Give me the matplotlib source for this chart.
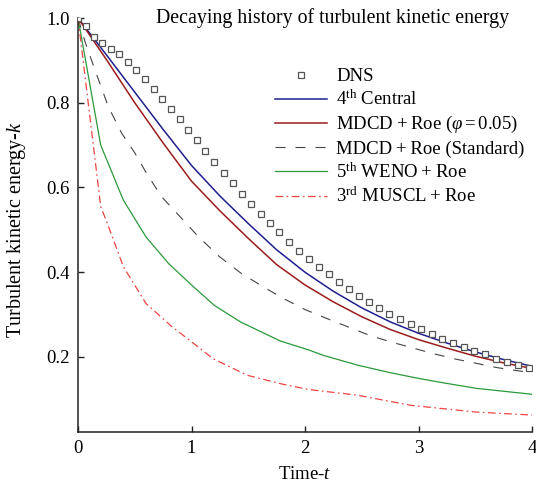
import matplotlib
matplotlib.use('Agg')
import matplotlib.pyplot as plt

plt.rcParams['font.family'] = ['Liberation Serif', 'DejaVu Serif']
plt.rcParams['mathtext.fontset'] = 'custom'
plt.rcParams['mathtext.rm'] = 'Liberation Serif'
plt.rcParams['mathtext.it'] = 'Liberation Serif:italic'
plt.rcParams['mathtext.fallback'] = 'cm'
plt.rcParams['lines.scale_dashes'] = False

# DNS reference points
t_dns = [0, 0.07, 0.144, 0.214, 0.288, 0.364, 0.438, 0.514, 0.59, 0.667, 0.743, 0.819,
         0.896, 0.972, 1.046, 1.12, 1.20, 1.284, 1.363, 1.445, 1.527, 1.61, 1.692, 1.774,
         1.859, 1.95, 2.038, 2.126, 2.211, 2.302, 2.39, 2.478, 2.567, 2.655, 2.743, 2.837,
         2.931, 3.02, 3.116, 3.21, 3.30, 3.40, 3.49, 3.59, 3.685, 3.78, 3.88, 3.976]
k_dns = [1.0, 0.982, 0.956, 0.940, 0.928, 0.914, 0.895, 0.877, 0.855, 0.832, 0.808, 0.785,
         0.761, 0.736, 0.711, 0.686, 0.660, 0.635, 0.610, 0.584, 0.562, 0.538, 0.516, 0.494,
         0.472, 0.451, 0.432, 0.413, 0.395, 0.377, 0.361, 0.345, 0.330, 0.315, 0.302, 0.289,
         0.277, 0.266, 0.255, 0.243, 0.233, 0.223, 0.214, 0.206, 0.196, 0.188, 0.181, 0.174]

# common time samples for the smooth solver curves
t_s = [0, 0.25, 0.5, 0.75, 1.0, 1.25, 1.5, 1.75, 2.0, 2.25, 2.5, 2.75, 3.0, 3.25, 3.5, 3.75, 4.0]

# 4th central
k_c4 = [1.0, 0.913, 0.825, 0.737, 0.652, 0.580, 0.515, 0.453, 0.400, 0.355, 0.316, 0.283,
        0.256, 0.233, 0.212, 0.194, 0.178]

# MDCD+Roe (phi=0.05)
k_mdcd = [1.0, 0.902, 0.800, 0.705, 0.615, 0.545, 0.480, 0.418, 0.370, 0.330, 0.295, 0.265,
          0.241, 0.221, 0.202, 0.186, 0.173]

# MDCD+Roe (standard)
t_std = [0, 0.062, 0.15, 0.267, 0.385, 0.502, 0.605, 0.737, 0.9, 1.06, 1.25, 1.44, 1.63, 1.81,
         2.0, 2.19, 2.38, 2.57, 2.75, 2.94, 3.13, 3.31, 3.51, 3.69, 3.89, 4.0]
k_std = [1.0, 0.944, 0.877, 0.791, 0.728, 0.681, 0.633, 0.578, 0.531, 0.484, 0.436, 0.397,
         0.366, 0.338, 0.312, 0.291, 0.271, 0.251, 0.236, 0.222, 0.208, 0.196, 0.185, 0.175,
         0.167, 0.163]

# 5th WENO+Roe
t_weno = [0, 0.2, 0.4, 0.6, 0.8, 1.0, 1.2, 1.43, 1.78, 2.04, 2.16, 2.46, 2.75, 3.01, 3.22, 3.51, 4.0]
k_weno = [1.0, 0.70, 0.57, 0.483, 0.42, 0.37, 0.322, 0.283, 0.238, 0.216, 0.204, 0.181, 0.163,
          0.149, 0.139, 0.126, 0.112]

# 3rd MUSCL+Roe
t_muscl = [0, 0.2, 0.27, 0.4, 0.6, 0.83, 1.0, 1.19, 1.49, 1.8, 2.04, 2.46, 2.93, 3.22, 3.51, 4.0]
k_muscl = [1.0, 0.555, 0.507, 0.413, 0.326, 0.271, 0.236, 0.196, 0.157, 0.136, 0.123, 0.110,
           0.086, 0.078, 0.070, 0.063]

FS = 13.5
fig = plt.figure(figsize=(5.36, 4.86), dpi=100)
ax = fig.add_axes([78/536, 54/486, 454/536, 414/486])

ax.plot(t_dns, k_dns, ls='none', marker='s', ms=4.3, mfc='white', mec='#555555', mew=0.9,
        label='DNS', zorder=5)
ax.plot(t_s, k_c4, color='#1f1f8f', lw=1.1, label='4$^{\\rm th}$ Central')
ax.plot(t_s, k_mdcd, color='#9b1c1c', lw=1.1,
        label='MDCD\u2009+\u2009Roe ($\\varphi = 0.05$)')
ax.plot(t_std, k_std, color='#444444', lw=0.8, ls=(0, (7.2, 7.2)),
        label='MDCD\u2009+\u2009Roe (Standard)')
ax.plot(t_weno, k_weno, color='#2a9a3a', lw=0.9, label='5$^{\\rm th}$ WENO\u2009+\u2009Roe')
ax.plot(t_muscl, k_muscl, color='#ee4444', lw=0.9, ls=(0, (5.5, 2.5, 1.2, 2.5)),
        label='3$^{\\rm rd}$ MUSCL\u2009+\u2009Roe')

ax.set_xlim(0, 4)
ax.set_ylim(0.023, 1.0)
ax.set_xticks([0, 1, 2, 3, 4])
ax.set_yticks([0.2, 0.4, 0.6, 0.8, 1.0])
ax.set_yticklabels(['0.2', '0.4', '0.6', '0.8', '1.0'])
ax.spines['top'].set_visible(False)
ax.spines['right'].set_visible(False)
for s in ['left', 'bottom']:
    ax.spines[s].set_linewidth(1.1)
    ax.spines[s].set_color('#222222')
ax.tick_params(direction='in', length=4, width=1, color='#222222', labelsize=FS, pad=6)

ax.set_xlabel('Time-$t$', fontsize=FS, labelpad=6)
ax.set_ylabel('Turbulent kinetic energy-$k$', fontsize=14.5)
ax.yaxis.set_label_coords(-0.11, 0.49)

ax.text(0.56, 1.0, 'Decaying history of turbulent kinetic energy', transform=ax.transAxes,
        ha='center', va='center', fontsize=14.3)

ax.legend(loc='upper left', bbox_to_anchor=(0.434, 0.879), frameon=False, fontsize=FS,
          borderpad=0, borderaxespad=0, handlelength=2.77, handletextpad=0.5,
          labelspacing=0.26, numpoints=1)

fig.savefig('out.png', dpi=100)
